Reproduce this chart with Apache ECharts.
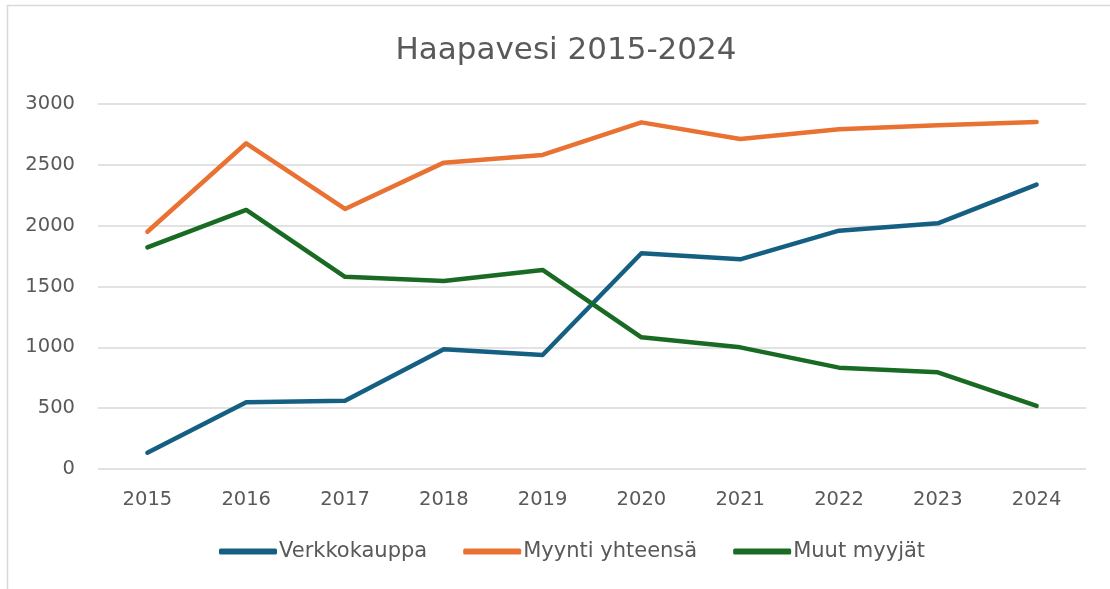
<!DOCTYPE html>
<html>
<head>
<meta charset="utf-8">
<script src="https://cdn.jsdelivr.net/npm/echarts@6/dist/echarts.min.js"></script>
<style>
html,body{margin:0;padding:0;background:#fff;}
#chart{width:1110px;height:589px;}
</style>
</head>
<body>
<div id="chart"></div>
<script>
const years = ['2015','2016','2017','2018','2019','2020','2021','2022','2023','2024'];
const verkkokauppa = [134, 548, 561, 984, 937, 1773, 1723, 1959, 2019, 2337];
const myyntiYhteensa = [1950, 2677, 2137, 2518, 2581, 2849, 2712, 2792, 2825, 2852];
const muutMyyjat = [1822, 2129, 1580, 1545, 1636, 1082, 1000, 833, 795, 518];
const seriesNames = ['Verkkokauppa', 'Myynti yhteensä', 'Muut myyjät'];
const titleText = 'Haapavesi 2015-2024';

const FONT = '"DejaVu Sans", "Liberation Sans", sans-serif';
const TXT = '#595959';
const colors = ['#156082', '#E97132', '#196B24'];

const chart = echarts.init(document.getElementById('chart'));
const mk = (name, data, color) => ({
  name, type: 'line', data, symbol: 'none', showSymbol: false,
  lineStyle: { width: 4.5, color, cap: 'round', join: 'round' },
  itemStyle: { color },
  emphasis: { disabled: true },
  animation: false
});
chart.setOption({
  animation: false,
  textStyle: { fontFamily: FONT },
  graphic: [{
    type: 'rect', silent: true, z: -1,
    shape: { x: 7.5, y: 5.5, width: 1200, height: 1200 },
    style: { fill: 'none', stroke: '#d9d9d9', lineWidth: 1.5 }
  }],
  title: {
    text: titleText, left: 561, top: 30, textAlign: 'center',
    textStyle: { fontFamily: FONT, fontSize: 31, fontWeight: 'normal', color: TXT }
  },
  legend: {
    data: seriesNames, bottom: 22, left: 214,
    itemWidth: 58, itemHeight: 6, itemGap: 36, icon: 'roundRect',
    textStyle: { fontFamily: FONT, fontSize: 21, color: TXT, padding: [0,0,0,-3] }
  },
  grid: { left: 98, right: 24, top: 104, bottom: 120, containLabel: false, outerBoundsMode: 'none' },
  xAxis: {
    type: 'category', data: years, boundaryGap: true,
    axisLine: { show: false }, axisTick: { show: false },
    axisLabel: { color: TXT, fontSize: 19.5, fontFamily: FONT, margin: 21 },
    splitLine: { show: false }
  },
  yAxis: {
    type: 'value', min: 0, max: 3000, interval: 500,
    axisLine: { show: false }, axisTick: { show: false },
    axisLabel: { color: TXT, fontSize: 19.5, fontFamily: FONT, margin: 23, formatter: (v) => String(v) },
    splitLine: { lineStyle: { color: '#d9d9d9', width: 1.5 } }
  },
  series: [
    mk(seriesNames[0], verkkokauppa, colors[0]),
    mk(seriesNames[1], myyntiYhteensa, colors[1]),
    mk(seriesNames[2], muutMyyjat, colors[2])
  ]
});
</script>
</body>
</html>
